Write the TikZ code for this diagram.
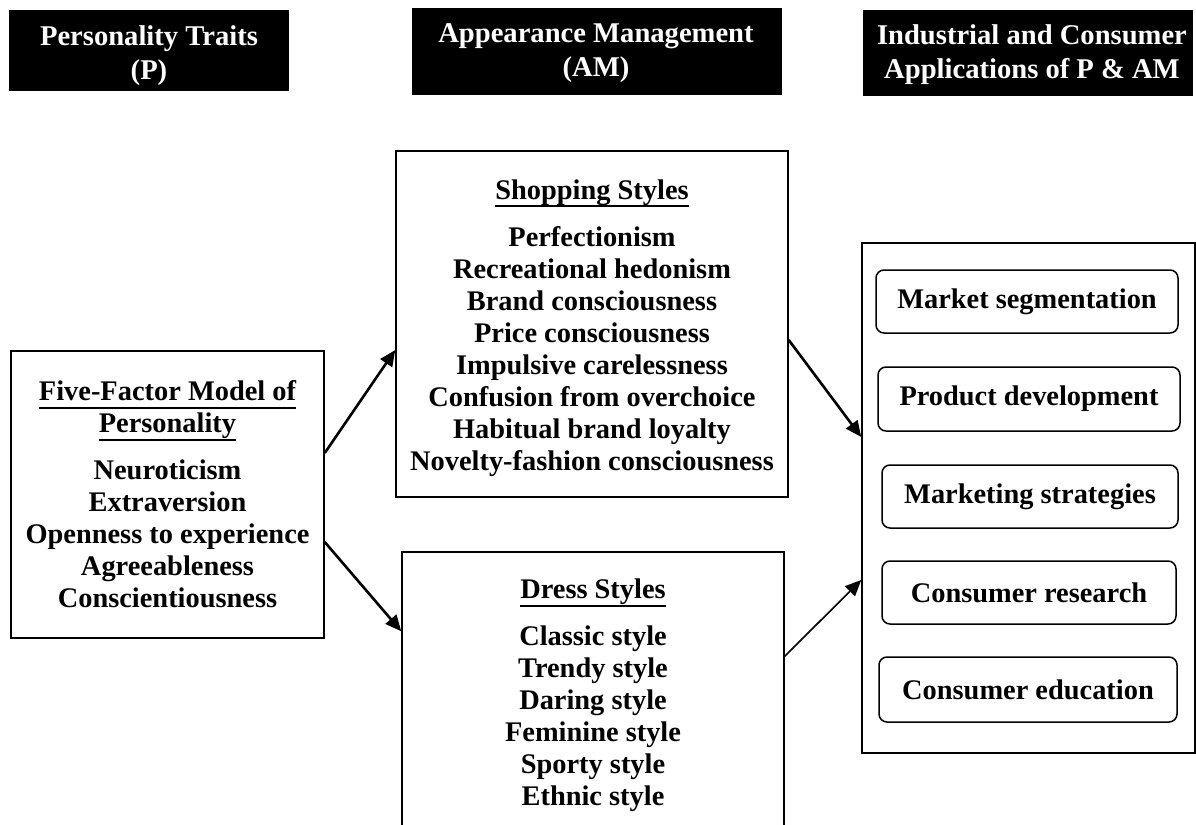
\documentclass[tikz,border=0pt]{standalone}
\usepackage{fontspec}
\setmainfont{Liberation Serif}
\usetikzlibrary{arrows.meta,calc}
\newcommand\myul[1]{\setbox0\hbox{#1}\rlap{\rule[-4pt]{\wd0}{1pt}}\box0}
\begin{document}
\begin{tikzpicture}[x=0.5pt,y=-0.5pt,
  every node/.style={font=\bfseries\fontsize{14.2pt}{16pt}\selectfont},
  hdrbox/.style={fill=black,draw=none,inner sep=0pt},
  hdrtxt/.style={text=white,align=center,inner sep=0pt,font=\bfseries\fontsize{14.3pt}{17pt}\selectfont},
  box/.style={draw=black,line width=0.75pt,inner sep=0pt},
  txt/.style={align=center,inner sep=0pt},
  app/.style={draw=black,line width=0.75pt,rounded corners=4pt,inner sep=0pt},
  thickarrow/.style={line width=1.3pt,-{Triangle[length=8pt,width=7pt]}},
  thinarrow/.style={line width=0.8pt,-{Triangle[length=8pt,width=7pt]}}]
\useasboundingbox (0,0) rectangle (1196,825);
\clip (0,0) rectangle (1196,825);
% headers
\node[hdrbox,minimum width=140pt,minimum height=40.5pt] (h1) at (149,50.5) {};
\node[hdrtxt] (h1t) at (149,55.5) {Personality Traits\\(P)};
\node[hdrbox,minimum width=185pt,minimum height=43.5pt] (h2) at (597,51.5) {};
\node[hdrtxt] (h2t) at (596,53) {Appearance Management\\(AM)};
\node[hdrbox,minimum width=165pt,minimum height=43pt] (h3) at (1028,53) {};
\node[hdrtxt] (h3t) at (1032,54.5) {Industrial and Consumer\\Applications of P \& AM};
% left box
\node[box,minimum width=156.5pt,minimum height=143.5pt] (ffm) at (167.5,494.5) {};
\node[txt] (ffmt) at (167.5,494.5) {\myul{Five-Factor Model of}\\\myul{Personality}\\[7.5pt]Neuroticism\\Extraversion\\Openness to experience\\Agreeableness\\Conscientiousness};
% shopping box
\node[box,minimum width=196pt,minimum height=173pt] (shop) at (592,324) {};
\node[txt] (shopt) at (592,328) {\myul{Shopping Styles}\\[7.5pt]Perfectionism\\Recreational hedonism\\Brand consciousness\\Price consciousness\\Impulsive carelessness\\Confusion from overchoice\\Habitual brand loyalty\\Novelty-fashion consciousness};
% dress box
\node[box,minimum width=191pt,minimum height=174pt] (dress) at (593,726) {};
\node[txt] (dresst) at (593,695.5) {\myul{Dress Styles}\\[7.5pt]Classic style\\Trendy style\\Daring style\\Feminine style\\Sporty style\\Ethnic style};
% applications box
\node[box,minimum width=166.5pt,minimum height=255pt] (apps) at (1028.5,498) {};
\node[app,minimum width=151pt,minimum height=31.5pt] (a1) at (1027,301.5) {Market segmentation};
\node[app,minimum width=151pt,minimum height=32pt] (a2) at (1029,399) {Product development};
\node[app,minimum width=148pt,minimum height=31.5pt] (a3) at (1030,496.5) {Marketing strategies};
\node[app,minimum width=147pt,minimum height=31.5pt] (a4) at (1029,592.5) {Consumer research};
\node[app,minimum width=149pt,minimum height=32.5pt] (a5) at (1028,689.5) {Consumer education};
% arrows
\draw[thickarrow] ($(ffm.east)+(0,-41.5)$) -- ($(shop.west)+(0,26)$);
\draw[thickarrow] ($(ffm.east)+(0,47.5)$) -- ($(dress.north west)+(0,80)$);
\draw[thickarrow] ($(shop.east)+(0,16)$) -- ($(apps.west)+(0,-61)$);
\draw[thinarrow] ($(dress.north east)+(0,105)$) -- ($(apps.west)+(0,82)$);
\end{tikzpicture}
\end{document}
